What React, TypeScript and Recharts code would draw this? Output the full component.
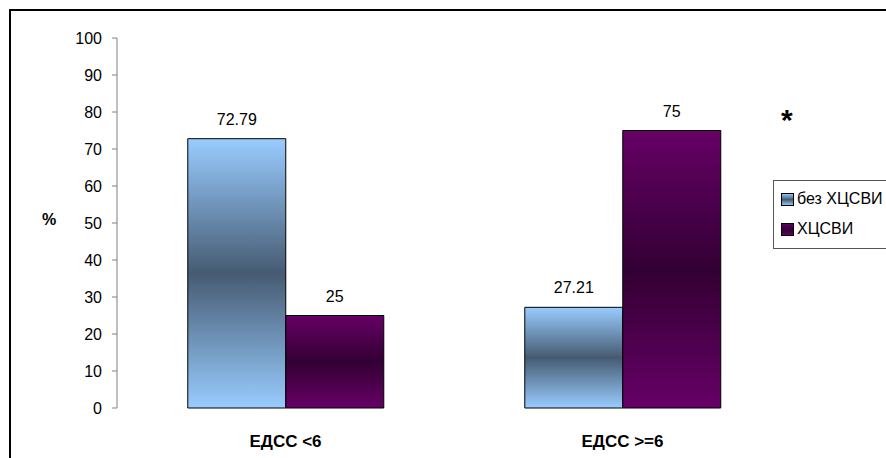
import React from 'react';
import { BarChart, Bar, XAxis, YAxis, Legend, LabelList } from 'recharts';

const categories = ['ЕДСС <6', 'ЕДСС >=6'];
const withoutValues = [72.79, 27.21];
const withValues = [25, 75];
const yTicks = [0, 10, 20, 30, 40, 50, 60, 70, 80, 90, 100];
const edgeTicks = [0, 1, 2];

const seriesNames = { without: 'без ХЦСВИ', with: 'ХЦСВИ' };

const data = categories.map((name, i) => ({
  name,
  without: withoutValues[i],
  with: withValues[i],
}));

const font = 'Arial, "Liberation Sans", sans-serif';

const renderLegend = () => (
  <div
    style={{
      border: '1px solid #555',
      background: '#fff',
      padding: '6px 0 7px 7px',
      fontFamily: font,
      fontSize: 16,
      color: '#000',
      width: 130,
      boxSizing: 'border-box',
    }}
  >
    {[
      { key: 'gradWithout', label: seriesNames.without },
      { key: 'gradWith', label: seriesNames.with },
    ].map((item, i) => (
      <div key={item.key} style={{ display: 'flex', alignItems: 'center', height: 24, marginTop: i ? 6 : 0 }}>
        <svg width={13} height={13} style={{ marginRight: 3 }}>
          <defs>
            <linearGradient id={`${item.key}-lg`} x1="0" y1="0" x2="0" y2="1">
              <stop offset="0%" stopColor={i ? '#660066' : '#99CCFF'} />
              <stop offset="50%" stopColor={i ? '#330033' : '#465B72'} />
              <stop offset="100%" stopColor={i ? '#660066' : '#99CCFF'} />
            </linearGradient>
          </defs>
          <rect x={0.5} y={0.5} width={12} height={12} fill={`url(#${item.key}-lg)`} stroke="#000" />
        </svg>
        <span style={{ whiteSpace: 'nowrap' }}>{item.label}</span>
      </div>
    ))}
  </div>
);

export default function App() {
  return (
    <div style={{ position: 'absolute', left: 0, top: 0, width: 886, height: 458, overflow: 'hidden', background: '#fff' }}>
      {/* outer frame, runs off the right and bottom edges */}
      <div style={{ position: 'absolute', left: 9, top: 9, width: 920, height: 480, border: '2px solid #000' }} />
      <div style={{ position: 'absolute', left: 0, top: 0 }}>
        <BarChart
          width={886}
          height={458}
          data={data}
          margin={{ top: 38, right: 95, left: 57, bottom: 10 }}
          barCategoryGap="21%"
          barGap={0}
        >
          <defs>
            <linearGradient id="gradWithout" x1="0" y1="0" x2="0" y2="1">
              <stop offset="0%" stopColor="#99CCFF" />
              <stop offset="50%" stopColor="#465B72" />
              <stop offset="100%" stopColor="#99CCFF" />
            </linearGradient>
            <linearGradient id="gradWith" x1="0" y1="0" x2="0" y2="1">
              <stop offset="0%" stopColor="#660066" />
              <stop offset="50%" stopColor="#330033" />
              <stop offset="100%" stopColor="#660066" />
            </linearGradient>
          </defs>
          <XAxis
            xAxisId="edges"
            type="number"
            domain={[0, 2]}
            ticks={edgeTicks}
            height={0}
            tick={false}
            tickSize={5}
            axisLine={{ stroke: '#808080' }}
            tickLine={{ stroke: '#808080' }}
          />
          <XAxis
            dataKey="name"
            height={40}
            axisLine={false}
            tickLine={false}
            tickMargin={21}
            tick={{ fill: '#000', fontSize: 17, fontWeight: 'bold', fontFamily: font }}
          />
          <YAxis
            domain={[0, 100]}
            ticks={yTicks}
            width={60}
            tickSize={5}
            tickMargin={10}
            axisLine={{ stroke: '#808080' }}
            tickLine={{ stroke: '#808080' }}
            tick={{ fill: '#000', fontSize: 16, fontFamily: font }}
            label={{
              value: '%',
              position: 'insideLeft',
              offset: -15,
              dy: -4,
              style: { fill: '#000', fontSize: 16, fontWeight: 'bold', fontFamily: font },
            }}
          />
          <Legend
            layout="vertical"
            align="center"
            verticalAlign="middle"
            content={renderLegend}
            wrapperStyle={{ position: 'absolute', left: 773, top: 180, width: 130 }}
          />
          <Bar dataKey="without" name={seriesNames.without} fill="url(#gradWithout)" stroke="#000" strokeWidth={1} isAnimationActive={false}>
            <LabelList dataKey="without" position="top" offset={14} style={{ fill: '#000', fontSize: 16, fontFamily: font }} />
          </Bar>
          <Bar dataKey="with" name={seriesNames.with} fill="url(#gradWith)" stroke="#000" strokeWidth={1} isAnimationActive={false}>
            <LabelList dataKey="with" position="top" offset={14} style={{ fill: '#000', fontSize: 16, fontFamily: font }} />
          </Bar>
        </BarChart>
      </div>
      <div style={{ position: 'absolute', left: 781, top: 105, fontFamily: font, fontSize: 30, fontWeight: 'bold', color: '#000', lineHeight: '30px' }}>*</div>
    </div>
  );
}
